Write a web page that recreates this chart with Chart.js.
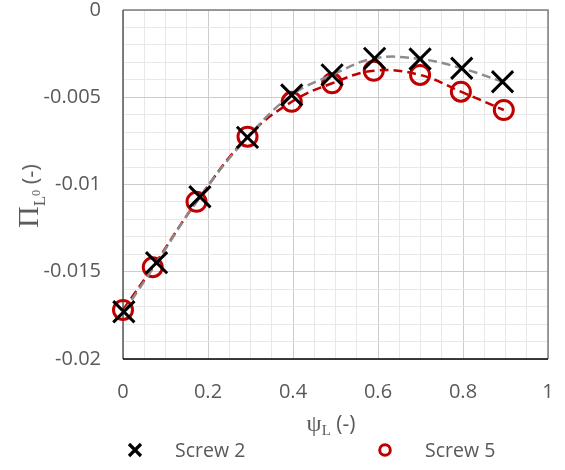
<!DOCTYPE html>
<html>
<head>
<meta charset="utf-8">
<script src="https://cdn.jsdelivr.net/npm/chart.js@4.4.1/dist/chart.umd.min.js"></script>
<style>
  html, body { margin: 0; padding: 0; background: #fff; }
  #wrap { position: relative; width: 565px; height: 470px; overflow: hidden; }
  #c { position: absolute; left: 0; top: 0; }
  .ttl { position: absolute; color: #595959; white-space: nowrap; line-height: 1; }
  .serif { font-family: "Liberation Serif", "DejaVu Serif", serif; }
  .sans { font-family: "Open Sans", "Noto Sans", sans-serif; }
  #ytitle { left: 28px; top: 196px; transform: translate(-50%, -50%) rotate(-90deg); font-size: 22px; }
  #xtitle { left: 331px; top: 423px; transform: translate(-50%, -50%); font-size: 21px; }
  .leg { position: absolute; top: 450px; transform: translateY(-50%); font-family: "Open Sans", "Noto Sans", sans-serif; font-size: 19.5px; color: #595959; white-space: nowrap; line-height: 1; }
  .legmark { position: absolute; }
</style>
</head>
<body>
<div id="wrap">
  <canvas id="c" width="565" height="470"></canvas>
  <div id="ytitle" class="ttl"><span class="serif" style="font-size:30px">Π</span><span class="serif" style="font-size:17px;position:relative;top:7px">L</span><span class="serif" style="font-size:12px;position:relative;top:2px">0</span><span class="sans"> (-)</span></div>
  <div id="xtitle" class="ttl"><span class="serif" style="font-size:24px">ψ</span><span class="serif" style="font-size:15px;position:relative;top:4px">L</span><span class="sans"> (-)</span></div>
  <svg class="legmark" style="left:127px;top:442px" width="16" height="16"><path d="M2 2 L14 14 M14 2 L2 14" stroke="#000" stroke-width="3.2"/></svg>
  <div class="leg" id="leg1" style="left:175px">Screw 2</div>
  <svg class="legmark" style="left:377px;top:442px" width="16" height="16"><circle cx="8" cy="8" r="5.3" fill="none" stroke="#C00000" stroke-width="3"/></svg>
  <div class="leg" id="leg2" style="left:425px">Screw 5</div>
</div>
<script>
// ---- data ----
const screw2X = [0.002, 0.079, 0.181, 0.293, 0.397, 0.492, 0.592, 0.699, 0.797, 0.893];
const screw2Y = [-0.01729, -0.01448, -0.01070, -0.00730, -0.00487, -0.00372, -0.00277, -0.00281, -0.00334, -0.00411];
const screw5X = [0.000, 0.070, 0.173, 0.293, 0.397, 0.492, 0.590, 0.699, 0.795, 0.896];
const screw5Y = [-0.01719, -0.01474, -0.01099, -0.00726, -0.00526, -0.00420, -0.00348, -0.00372, -0.00468, -0.00573];
const seriesNames = ["Screw 2", "Screw 5"];
const xTickLabels = ["0", "0.2", "0.4", "0.6", "0.8", "1"];
const yTickLabels = ["0", "-0.005", "-0.01", "-0.015", "-0.02"];

const toPts = (xs, ys) => xs.map((x, i) => ({ x: x, y: ys[i] }));

const tickFont = { family: "'Open Sans', 'Noto Sans', sans-serif", size: 20, lineHeight: 1 };
const isMajorX = v => Math.round(v * 100) % 20 === 0;
const isMajorY = v => Math.round(v * 1000) % 5 === 0;

const frame = {
  id: 'frame',
  beforeDatasetsDraw(chart) {
    const a = chart.chartArea, ctx = chart.ctx;
    ctx.save();
    ctx.lineWidth = 1.5;
    ctx.strokeStyle = '#7F7F7F';
    ctx.beginPath();
    ctx.moveTo(a.left, a.top); ctx.lineTo(a.right, a.top); ctx.lineTo(a.right, a.bottom);
    ctx.stroke();
    ctx.strokeStyle = '#595959';
    ctx.beginPath();
    ctx.moveTo(a.left, a.top); ctx.lineTo(a.left, a.bottom);
    ctx.stroke();
    ctx.strokeStyle = '#000';
    ctx.beginPath();
    ctx.moveTo(a.left, a.bottom); ctx.lineTo(a.right, a.bottom);
    ctx.stroke();
    ctx.restore();
  }
};

new Chart(document.getElementById('c'), {
  type: 'scatter',
  data: {
    datasets: [
      {
        label: seriesNames[0],
        data: toPts(screw2X, screw2Y),
        showLine: true,
        tension: 0.4,
        borderColor: '#8C8C8C',
        borderWidth: 2.5,
        borderDash: [9, 5],
        pointStyle: 'crossRot',
        pointRadius: 15,
        pointBorderColor: '#000',
        pointBackgroundColor: '#000',
        pointBorderWidth: 3,
        pointHoverRadius: 15,
        clip: false
      },
      {
        label: seriesNames[1],
        data: toPts(screw5X, screw5Y),
        showLine: true,
        tension: 0.4,
        borderColor: '#C00000',
        borderWidth: 2.5,
        borderDash: [9, 5],
        pointStyle: 'circle',
        pointRadius: 9.5,
        pointBorderColor: '#C00000',
        pointBackgroundColor: 'rgba(0,0,0,0)',
        pointBorderWidth: 3,
        pointHoverRadius: 9.5,
        clip: false
      }
    ]
  },
  options: {
    responsive: false,
    animation: false,
    events: [],
    layout: { autoPadding: false, padding: { left: 0, right: 17, top: 10, bottom: 71 } },
    plugins: { legend: { display: false }, tooltip: { enabled: false } },
    scales: {
      x: {
        type: 'linear', min: 0, max: 1,
        afterFit: s => { s.height = 40; s.paddingLeft = 0; s.paddingRight = 0; },
        border: { display: false },
        grid: {
          drawTicks: false,
          color: c => isMajorX(c.tick.value) ? '#CCCCCC' : '#E8E8E8',
          lineWidth: 1
        },
        ticks: {
          stepSize: 0.05, autoSkip: false, maxRotation: 0,
          padding: 23, color: '#595959', font: tickFont,
          callback: v => isMajorX(v) ? xTickLabels[Math.round(v * 5)] : ''
        }
      },
      y: {
        type: 'linear', min: -0.02, max: 0,
        afterFit: s => { s.width = 123; s.paddingTop = 0; s.paddingBottom = 0; },
        border: { display: false },
        grid: {
          drawTicks: false,
          color: c => isMajorY(c.tick.value) ? '#CCCCCC' : '#E8E8E8',
          lineWidth: 1
        },
        ticks: {
          stepSize: 0.001, autoSkip: false,
          padding: 22, color: '#595959', font: tickFont,
          callback: v => isMajorY(v) ? yTickLabels[Math.round(-v * 200)] : ''
        }
      }
    }
  },
  plugins: [frame]
});
</script>
</body>
</html>
